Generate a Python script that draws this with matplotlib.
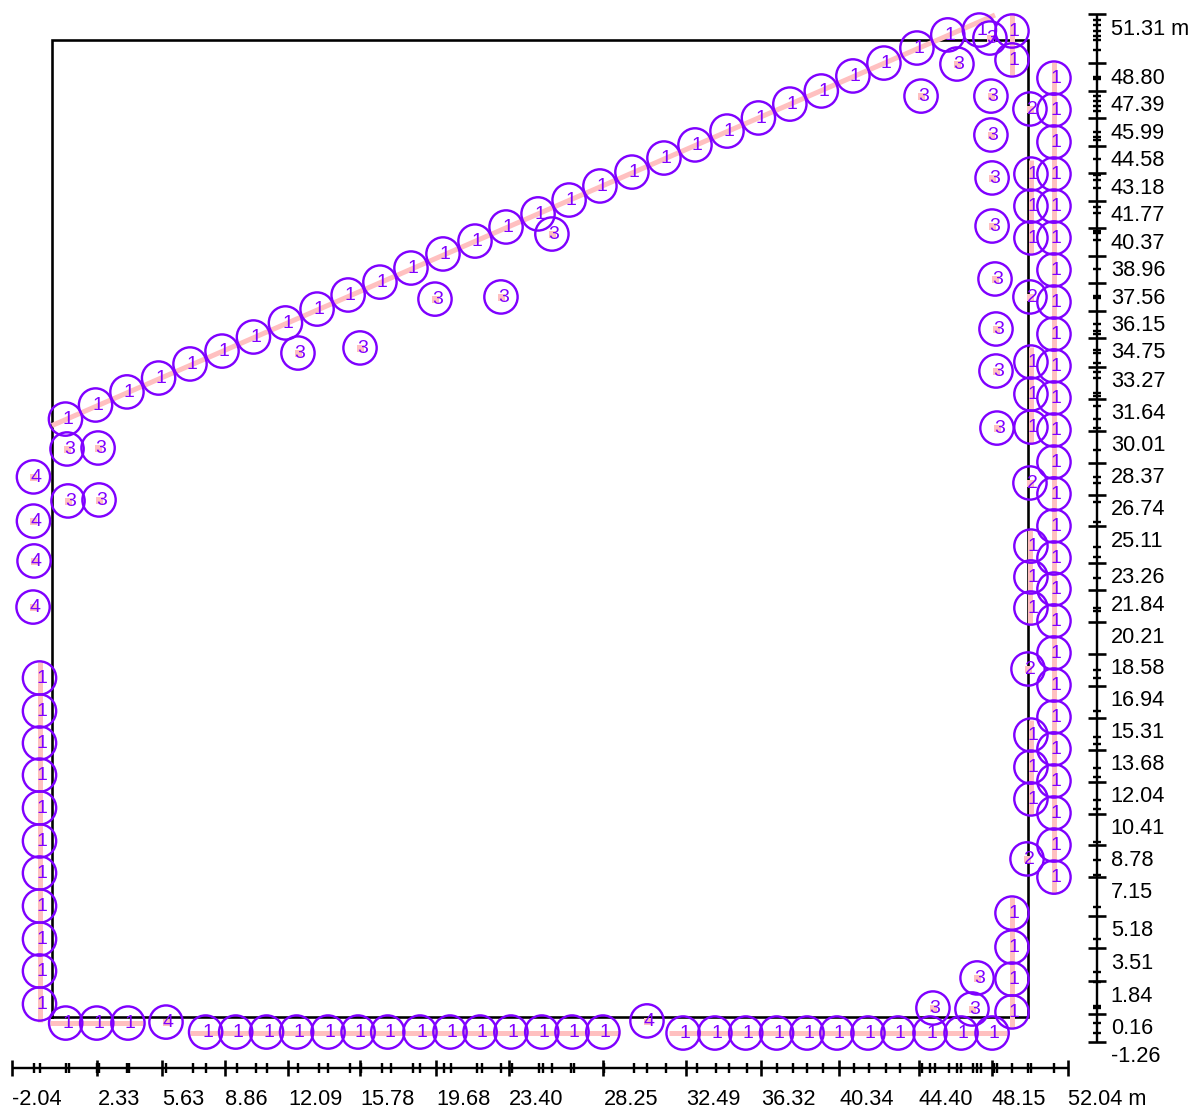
import matplotlib
matplotlib.use("Agg")
import matplotlib.pyplot as plt

plt.rcParams['font.family'] = ['Liberation Sans', 'DejaVu Sans']

# wall outline (m)
wall_x = [0, 50, 50, 0, 0]
wall_y = [0, 0, 50, 50, 0]

# element lines (m)
seg_x0 = [-0.64, -0.10, 7.07, 31.60, 49.18, 49.18, 51.33, 50.15, 50.15, 50.10, 50.15, 0.0]
seg_y0 = [18.17, -0.31, -0.82, -0.82, 6.14, 51.38, 48.87, 43.86, 34.29, 24.92, 15.20, 30.27]
seg_x1 = [-0.64, 4.66, 29.10, 48.90, 49.18, 49.18, 51.33, 50.15, 50.15, 50.10, 50.15, 48.31]
seg_y1 = [-0.26, -0.31, -0.82, -0.82, -0.56, 48.20, 6.35, 39.10, 29.38, 20.11, 10.34, 51.28]

# type 1
t1_x = [-0.64]*11 + [0.70, 2.29, 3.89] + \
    [7.87, 9.41, 10.99, 12.53, 14.14, 15.68, 17.20, 18.85, 20.39, 21.93, 23.51, 25.09, 26.64, 28.22] + \
    [32.33, 33.96, 35.54, 37.12, 38.68, 40.21, 41.80, 43.34, 44.98, 46.57, 48.16] + \
    [49.18]*6 + [51.33]*26 + [50.15]*12 + \
    [0.69, 2.23, 3.84, 5.46, 7.07, 8.71, 10.32, 11.96, 13.58, 15.17, 16.80, 18.39, 20.03, 21.67, 23.26,
     24.90, 26.49, 28.07, 29.71, 31.35, 32.94, 34.58, 36.19, 37.80, 39.41, 41.03, 42.62, 44.31, 45.89, 47.51]
t1_y = [0.665, 2.354, 3.99, 5.68, 7.37, 9.01, 10.70, 12.38, 14.02, 15.66, 17.35] + [-0.31]*3 + \
    [-0.77]*14 + [-0.82]*11 + \
    [5.32, 3.58, 1.94, 0.26, 48.98, 50.46] + \
    [48.05, 46.42, 44.78, 43.14, 41.50, 39.87, 38.23, 36.59, 34.95, 33.32, 31.68, 30.04, 28.40,
     26.77, 25.13, 23.49, 21.90, 20.27, 18.63, 16.99, 15.35, 13.72, 12.08, 10.44, 8.80, 7.16] + \
    [43.14, 41.50, 39.87, 33.52, 31.88, 30.19, 24.10, 22.52, 20.93, 14.43, 12.79, 11.16] + \
    [30.60, 31.32, 31.99, 32.70, 33.42, 34.08, 34.80, 35.52, 36.23, 36.95, 37.61, 38.33, 39.05, 39.71, 40.43,
     41.10, 41.81, 42.53, 43.24, 43.96, 44.63, 45.34, 46.01, 46.72, 47.39, 48.16, 48.82, 49.59, 50.26, 50.51]

# type 2
t2_x = [50.10, 50.10, 50.10, 50.00, 49.95]
t2_y = [46.47, 36.85, 27.33, 17.81, 8.09]

# type 3
t3_x = [0.77, 2.36, 0.82, 2.41, 12.60, 15.78, 19.62, 23.00, 25.61, 44.52, 46.36, 48.05, 48.10, 48.10,
        48.16, 48.16, 48.31, 48.36, 48.36, 48.41, 45.13, 47.13, 47.39]
t3_y = [29.07, 29.12, 26.41, 26.46, 33.98, 34.24, 36.74, 36.85, 40.07, 47.13, 48.77, 50.10, 47.13, 45.14,
        42.94, 40.48, 37.77, 35.21, 33.06, 30.14, 0.46, 0.41, 2.00]

# type 4
t4_x = [-0.95, -0.95, -0.92, -0.97, 5.84, 30.48]
t4_y = [27.64, 25.38, 23.34, 20.98, -0.26, -0.20]

# rulers
x_major = [-2.04, 2.33, 5.63, 8.86, 12.09, 15.78, 19.68, 23.40, 28.25, 32.49, 36.32, 40.34, 44.40, 48.15, 52.04]
x_labels = ['-2.04', '2.33', '5.63', '8.86', '12.09', '15.78', '19.68', '23.40', '28.25', '32.49', '36.32',
            '40.34', '44.40', '48.15', '52.04 m']
x_minor = [-0.91, -0.61, 0.72, 0.88, 2.29, 2.41, 3.85, 3.97, 5.82, 7.21, 7.89, 9.46, 10.45, 11.03, 12.59,
           13.68, 14.16, 15.27, 15.85, 16.92, 17.35, 18.51, 18.85, 20.10, 20.43, 21.76, 22.04, 23.00, 23.58,
           24.97, 25.17, 25.63, 26.57, 26.76, 28.30, 29.83, 30.50, 31.44, 33.06, 34.02, 34.68, 35.59, 37.16,
           37.98, 38.70, 39.52, 41.10, 41.85, 42.73, 43.44, 44.55, 44.98, 45.24, 45.97, 46.38, 46.57, 47.20,
           47.37, 47.58, 48.25, 48.43, 49.19, 49.98, 50.15, 51.35]
y_major = [51.31, 48.80, 47.39, 45.99, 44.58, 43.18, 41.77, 40.37, 38.96, 37.56, 36.15, 34.75, 33.27, 31.64,
           30.01, 28.37, 26.74, 25.11, 23.26, 21.84, 20.21, 18.58, 16.94, 15.31, 13.68, 12.04, 10.41, 8.78,
           7.15, 5.18, 3.51, 1.84, 0.16, -1.26]
y_labels = ['51.31 m', '48.80', '47.39', '45.99', '44.58', '43.18', '41.77', '40.37', '38.96', '37.56', '36.15',
            '34.75', '33.27', '31.64', '30.01', '28.37', '26.74', '25.11', '23.26', '21.84', '20.21', '18.58',
            '16.94', '15.31', '13.68', '12.04', '10.41', '8.78', '7.15', '5.18', '3.51', '1.84', '0.16', '-1.26']
y_minor = [51.02, 50.77, 50.48, 50.20, 50.00, 49.49, 48.02, 48.12, 47.15, 46.88, 46.62, 46.37, 45.31, 45.05,
           44.88, 43.91, 43.09, 42.84, 42.43, 41.47, 41.15, 40.12, 40.25, 39.76, 38.28, 36.80, 36.92, 35.47,
           35.12, 34.95, 34.14, 34.00, 33.45, 33.03, 32.69, 31.92, 31.80, 31.27, 30.59, 30.13, 29.02, 27.62,
           27.31, 26.36, 25.35, 24.07, 23.53, 22.45, 20.92, 20.79, 17.76, 17.33, 15.68, 14.35, 13.97, 12.76,
           12.30, 11.11, 10.63, 8.97, 8.03, 7.27, 5.64, 3.98, 2.28, 1.79, 0.56, 0.45, -0.32, -0.83]
x_ruler_y = -2.61
y_ruler_x = 53.52

PURPLE = '#7F00FF'
PINK = '#FFC0C0'
PX = 0.72  # points per pixel at 100 dpi

fig = plt.figure(figsize=(11.93, 11.10), dpi=100)
ax = fig.add_axes([0, 0, 1, 1])
ax.set_xlim(-2.664, 58.453)
ax.set_ylim(-4.759, 52.047)
ax.axis('off')

ax.plot(wall_x, wall_y, color='black', lw=2.6*PX, zorder=2, solid_joinstyle='miter')

for a, b, c, d in zip(seg_x0, seg_y0, seg_x1, seg_y1):
    ax.plot([a, c], [b, d], color=PINK, lw=5*PX, solid_capstyle='butt', zorder=3)

for xs, ys in [(t2_x, t2_y), (t3_x, t3_y), (t4_x, t4_y)]:
    ax.plot(xs, ys, ls='none', marker='s', ms=7*PX, mew=0, color=PINK, zorder=3)

for xs, ys, lab in [(t1_x, t1_y, '1'), (t2_x, t2_y, '2'), (t3_x, t3_y, '3'), (t4_x, t4_y, '4')]:
    ax.scatter(xs, ys, s=(33.3*PX)**2, facecolors='none', edgecolors=PURPLE, linewidths=2.4*PX, zorder=4)
    for x, y in zip(xs, ys):
        ax.annotate(lab, (x, y), xytext=(2.2*PX, -0.3*PX), textcoords='offset points', ha='center',
                    va='center', fontsize=14, color=PURPLE, zorder=5)

# bottom ruler
ax.plot([x_major[0], x_major[-1]], [x_ruler_y, x_ruler_y], color='black', lw=2.4*PX, zorder=2, solid_capstyle='butt')
ax.plot(x_major, [x_ruler_y]*len(x_major), ls='none', marker='|', ms=16.5*PX, mew=2.6*PX, color='black', zorder=2)
ax.plot(x_minor, [x_ruler_y]*len(x_minor), ls='none', marker='|', ms=9.5*PX, mew=2.4*PX, color='black', zorder=2)
for v, t in zip(x_major, x_labels):
    ax.annotate(t, (v, x_ruler_y), xytext=(0, -21*PX), textcoords='offset points', ha='left', va='top',
                fontsize=15.7, color='black')

# right ruler
ax.plot([y_ruler_x, y_ruler_x], [y_major[-1], y_major[0]], color='black', lw=2.4*PX, zorder=2, solid_capstyle='butt')
ax.plot([y_ruler_x]*len(y_major), y_major, ls='none', marker='_', ms=17.5*PX, mew=2.6*PX, color='black', zorder=2)
ax.plot([y_ruler_x]*len(y_minor), y_minor, ls='none', marker='_', ms=8.5*PX, mew=2.4*PX, color='black', zorder=2)
for v, t in zip(y_major, y_labels):
    ax.annotate(t, (y_ruler_x, v), xytext=(14*PX, -4.5*PX), textcoords='offset points', ha='left', va='top',
                fontsize=15.7, color='black')

fig.savefig('out.png', dpi=100)
